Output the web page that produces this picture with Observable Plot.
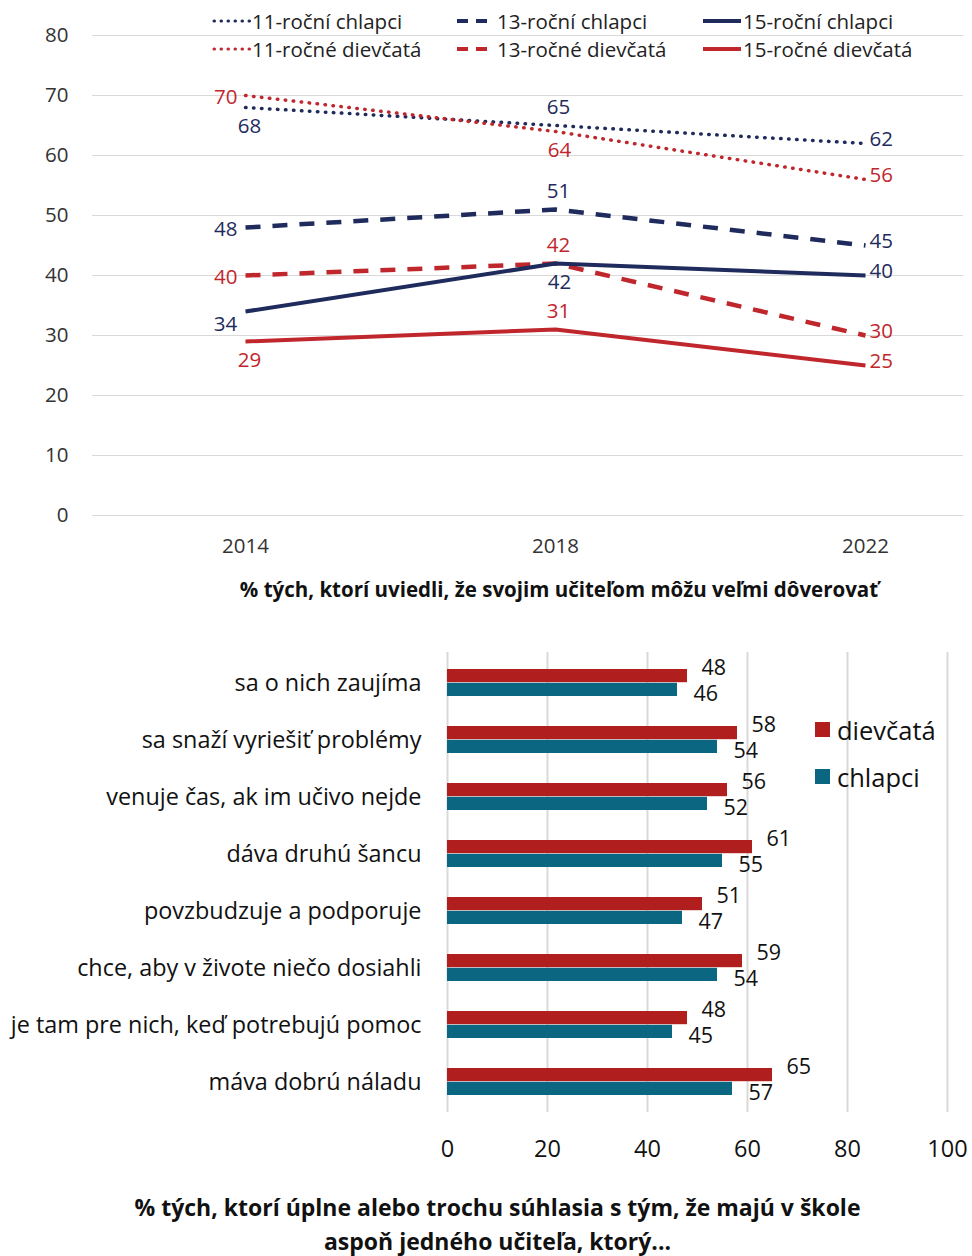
<!DOCTYPE html>
<html>
<head>
<meta charset="utf-8">
<script src="https://cdn.jsdelivr.net/npm/d3@7"></script>
<script src="https://cdn.jsdelivr.net/npm/@observablehq/plot@0.6"></script>
<style>
  html, body { margin: 0; padding: 0; background: #fff; }
  #root { position: relative; width: 972px; height: 1256px; overflow: hidden; font-family: "Open Sans", "Noto Sans", sans-serif; color: #222; }
  .abs { position: absolute; }
  .legitem { position: absolute; display: flex; align-items: center; white-space: nowrap; }
  .caption { position: absolute; font-weight: bold; text-align: center; color: #111; white-space: nowrap; }
</style>
</head>
<body>
<div id="root">
  <div id="top" class="abs" style="left:0;top:0"></div>
  <div id="topLegend" class="abs" style="left:0;top:0;width:972px;height:70px"></div>
  <div class="caption" style="left:0;width:1118px;top:574px;font-size:20.5px;line-height:30px">% tých, ktorí uviedli, že svojim učiteľom môžu veľmi dôverovať</div>
  <div id="bottom" class="abs" style="left:0;top:640px"></div>
  <div id="bottomLegend" class="abs" style="left:0;top:0"></div>
  <div class="caption" style="left:0;width:995px;top:1190px;font-size:23px;line-height:34px">% tých, ktorí úplne alebo trochu súhlasia s tým, že majú v škole<br>aspoň jedného učiteľa, ktorý...</div>
</div>
<script>
// ---------- Data: top chart ----------
const years = [2014, 2018, 2022];
const seriesNames = ["11-roční chlapci", "13-roční chlapci", "15-roční chlapci",
                     "11-ročné dievčatá", "13-ročné dievčatá", "15-ročné dievčatá"];
const boys11 = [68, 65, 62];
const girls11 = [70, 64, 56];
const boys13 = [48, 51, 45];
const girls13 = [40, 42, 30];
const boys15 = [34, 42, 40];
const girls15 = [29, 31, 25];
const yTicksTop = [0, 10, 20, 30, 40, 50, 60, 70, 80];

// ---------- Data: bottom chart ----------
const statements = ["sa o nich zaujíma", "sa snaží vyriešiť problémy", "venuje čas, ak im učivo nejde",
  "dáva druhú šancu", "povzbudzuje a podporuje", "chce, aby v živote niečo dosiahli",
  "je tam pre nich, keď potrebujú pomoc", "máva dobrú náladu"];
const girlsAgree = [48, 58, 56, 61, 51, 59, 48, 65];
const boysAgree = [46, 54, 52, 55, 47, 54, 45, 57];
const genderNames = ["dievčatá", "chlapci"];
const xTicksBottom = [0, 20, 40, 60, 80, 100];

// ---------- Styling ----------
const NAVY = "#1e2b5c";
const RED = "#c0272d";
const BAR_RED = "#b01e1e";
const BAR_TEAL = "#0b6682";
const GRID = "#d9d9d9";
const FONT = '"Open Sans", "Noto Sans", sans-serif';

const seriesInfo = {
  "11-roční chlapci": {vals: boys11, gender: "m", dash: "dot"},
  "13-roční chlapci": {vals: boys13, gender: "m", dash: "dash"},
  "15-roční chlapci": {vals: boys15, gender: "m", dash: "solid"},
  "11-ročné dievčatá": {vals: girls11, gender: "f", dash: "dot"},
  "13-ročné dievčatá": {vals: girls13, gender: "f", dash: "dash"},
  "15-ročné dievčatá": {vals: girls15, gender: "f", dash: "solid"}
};
// label placement per series (per year) – styling only
const labelPlacement = {
  "11-roční chlapci": ["below", "above", "right"],
  "11-ročné dievčatá": ["left", "below", "right"],
  "13-roční chlapci": ["left", "above", "right"],
  "13-ročné dievčatá": ["left", "above", "right"],
  "15-roční chlapci": ["belowleft", "below", "right"],
  "15-ročné dievčatá": ["below", "above", "right"]
};
const placeStyle = {
  above: {dx: 3, dy: -18, textAnchor: "middle"},
  below: {dx: 4, dy: 19, textAnchor: "middle"},
  left: {dx: -8, dy: 2, textAnchor: "end"},
  right: {dx: 4, dy: -4, textAnchor: "start"},
  belowleft: {dx: -20, dy: 13, textAnchor: "middle"}
};
const dashStyle = {
  dot: {strokeDasharray: "0.5,7.5", strokeWidth: 3.5, strokeLinecap: "round"},
  dash: {strokeDasharray: "15,12", strokeWidth: 4.5, strokeLinecap: "butt"},
  solid: {strokeWidth: 4, strokeLinecap: "butt"}
};

const rows = [];
for (const s of seriesNames) {
  const info = seriesInfo[s];
  years.forEach((y, i) => rows.push({series: s, year: y, value: info.vals[i], gender: info.gender, dash: info.dash, place: labelPlacement[s][i]}));
}

const topMarks = [
  Plot.ruleY(yTicksTop, {stroke: GRID, strokeWidth: 1.2}),
  Plot.axisY(yTicksTop, {tickSize: 0, tickPadding: 24, fontSize: 20.5, label: null, fill: "#333"}),
  Plot.axisX(years, {tickSize: 0, tickPadding: 23, fontSize: 20.5, label: null, fill: "#333", tickFormat: d => `${d}`})
];
for (const d of ["dot", "dash", "solid"]) {
  topMarks.push(Plot.line(rows.filter(r => r.dash === d), {
    x: "year", y: "value", z: "series", stroke: "gender", ...dashStyle[d]
  }));
}
for (const p of Object.keys(placeStyle)) {
  topMarks.push(Plot.text(rows.filter(r => r.place === p), {
    x: "year", y: "value", text: d => `${d.value}`, fill: "gender",
    fontSize: 20.5, ...placeStyle[p]
  }));
}

const topPlot = Plot.plot({
  width: 972, height: 570,
  marginLeft: 92, marginRight: 9, marginTop: 35, marginBottom: 55,
  x: {type: "point", domain: years, range: [245, 865], padding: 0, axis: null},
  y: {domain: [0, 80], axis: null},
  color: {domain: ["m", "f"], range: [NAVY, RED]},
  style: {fontFamily: FONT, background: "transparent", overflow: "visible"},
  marks: topMarks
});
document.getElementById("top").appendChild(topPlot);

// Top legend (HTML)
const legendPos = [
  {s: "11-roční chlapci", x: 212, y: 21}, {s: "13-roční chlapci", x: 457, y: 21}, {s: "15-roční chlapci", x: 703, y: 21},
  {s: "11-ročné dievčatá", x: 212, y: 49}, {s: "13-ročné dievčatá", x: 457, y: 49}, {s: "15-ročné dievčatá", x: 703, y: 49}
];
const tl = document.getElementById("topLegend");
for (const lp of legendPos) {
  const info = seriesInfo[lp.s];
  const col = info.gender === "m" ? NAVY : RED;
  const ds = dashStyle[info.dash];
  const item = document.createElement("div");
  item.className = "legitem";
  item.style.left = lp.x + "px";
  item.style.top = (lp.y - 14) + "px";
  item.style.height = "28px";
  item.style.fontSize = "20.5px";
  item.style.color = "#222";
  item.innerHTML = `<svg width="40" height="10" style="margin-right:0px"><line x1="${info.dash === 'dot' ? 2 : 0}" y1="5" x2="38" y2="5" stroke="${col}" stroke-width="${info.dash === 'dot' ? 3 : 4}" stroke-linecap="${ds.strokeLinecap}" ${info.dash === 'dot' ? 'stroke-dasharray="0.5,6.5"' : info.dash === 'dash' ? 'stroke-dasharray="11,8"' : ''}/></svg><span>${lp.s}</span>`;
  tl.appendChild(item);
}

// ---------- Bottom chart ----------
const barRows = [];
statements.forEach((st, i) => {
  barRows.push({statement: st, gender: genderNames[0], value: girlsAgree[i]});
  barRows.push({statement: st, gender: genderNames[1], value: boysAgree[i]});
});
const girlsRows = barRows.filter(r => r.gender === genderNames[0]);
const boysRows = barRows.filter(r => r.gender === genderNames[1]);
const half = 57.5 * 0.48 / 2;

const bottomPlot = Plot.plot({
  width: 972, height: 540,
  marginLeft: 447, marginRight: 25, marginTop: 12, marginBottom: 68,
  x: {domain: [0, 100], axis: null},
  y: {domain: statements, paddingInner: 0.52, paddingOuter: 0.26, axis: null},
  color: {domain: genderNames, range: [BAR_RED, BAR_TEAL]},
  style: {fontFamily: FONT, background: "transparent", overflow: "visible"},
  marks: [
    Plot.ruleX(xTicksBottom, {stroke: GRID, strokeWidth: 2}),
    Plot.axisX(xTicksBottom, {tickSize: 0, tickPadding: 28, fontSize: 23.5, label: null, fill: "#111"}),
    Plot.axisY(statements, {tickSize: 0, tickPadding: 26, fontSize: 23.4, label: null, fill: "#111"}),
    Plot.barX(girlsRows, {x: "value", y: "statement", fill: "gender", insetBottom: half}),
    Plot.barX(boysRows, {x: "value", y: "statement", fill: "gender", insetTop: half}),
    Plot.text(girlsRows, {x: "value", y: "statement", text: d => `${d.value}`, dx: 14, dy: -15, textAnchor: "start", fontSize: 21.5, fill: "#111"}),
    Plot.text(boysRows, {x: "value", y: "statement", text: d => `${d.value}`, dx: 16, dy: 11, textAnchor: "start", fontSize: 21.5, fill: "#111"})
  ]
});
document.getElementById("bottom").appendChild(bottomPlot);

// Bottom legend (HTML)
const bl = document.getElementById("bottomLegend");
[{g: genderNames[0], c: BAR_RED, y: 730}, {g: genderNames[1], c: BAR_TEAL, y: 777}].forEach(it => {
  const sq = document.createElement("div");
  sq.className = "abs";
  sq.style.cssText = `left:815px;top:${it.y - 8}px;width:15px;height:15px;background:${it.c}`;
  bl.appendChild(sq);
  const tx = document.createElement("div");
  tx.className = "abs";
  tx.style.cssText = `left:837px;top:${it.y - 18}px;height:36px;line-height:36px;font-size:25.5px;color:#111`;
  tx.textContent = it.g;
  bl.appendChild(tx);
});
</script>
</body>
</html>
